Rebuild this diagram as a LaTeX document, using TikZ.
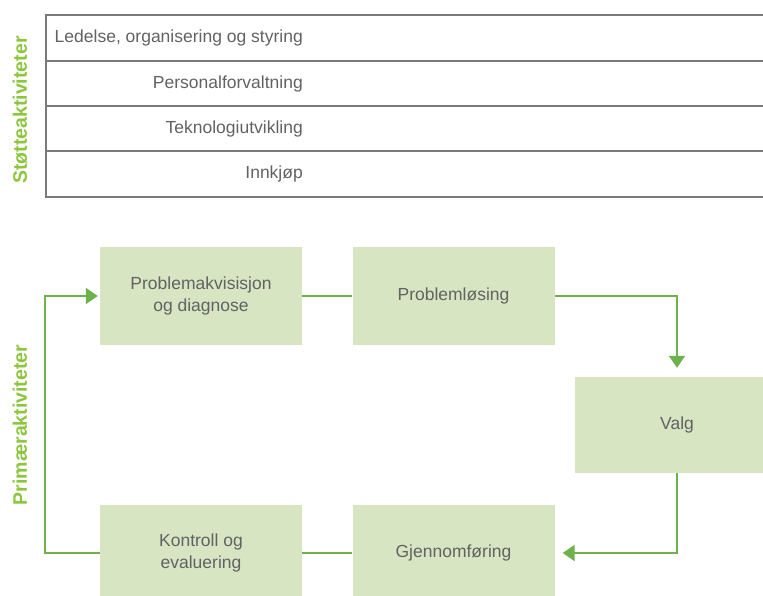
\documentclass[tikz,border=0pt]{standalone}
\usepackage{fontspec}
\setmainfont{Liberation Sans}
\usepackage{xcolor}
\usetikzlibrary{shapes,arrows.meta,positioning,calc}
\definecolor{boxgreen}{HTML}{D7E5C3}
\definecolor{linegreen}{HTML}{6DB24A}
\definecolor{labelgreen}{HTML}{8CC63F}
\definecolor{textgray}{HTML}{626262}
\definecolor{rulegray}{HTML}{7A7A7A}

\begin{document}
\begin{tikzpicture}[x=1pt, y=-1pt,
    activity/.style={rectangle, fill=boxgreen, text=textgray, align=center, font=\fontsize{17.5}{22}\selectfont, minimum width=202pt, minimum height=98pt, inner sep=0pt},
    support/.style={anchor=east, text=textgray, font=\fontsize{17.5}{20}\selectfont, inner sep=0pt},
    side/.style={rotate=90, text=labelgreen, font=\bfseries\fontsize{19.5}{22}\selectfont},
    link/.style={draw=linegreen, line width=2pt},
    arrow/.style={link, -{Triangle[length=12pt,width=16pt]}}
]
\clip (0,0) rectangle (763,596);

% Support activities
\draw[rulegray, line width=1.6pt] (46,15) rectangle (790,197);
\foreach \y in {61,106,151}
    \draw[rulegray, line width=1.6pt] (46,\y) -- (790,\y);
\node[support] (ledelse) at (303,38) {Ledelse, organisering og styring};
\node[support] (personal) at (303,83.5) {Personalforvaltning};
\node[support] (teknologi) at (303,128.5) {Teknologiutvikling};
\node[support] (innkjop) at (303,174) {Innkjøp};
\node[side] (stotte) at (20,110) {Støtteaktiviteter};

% Primary activities
\node[activity] (problem) at (201,296) {Problemakvisisjon\\og diagnose};
\node[activity] (losing) at (453.5,296) {Problemløsing};
\node[activity, minimum width=204pt, minimum height=96pt] (valg) at (677,425) {Valg};
\node[activity, minimum height=96pt] (gjen) at (453.5,553) {Gjennomføring};
\node[activity, minimum height=96pt] (kontroll) at (201,553) {Kontroll og\\evaluering};
\node[side] (primaer) at (20,425) {Primæraktiviteter};

% Arrows
\draw[link] (problem) -- (losing);
\draw[arrow, shorten >=9pt] (losing.east) -| (valg.north);
\draw[arrow, shorten >=8pt] (valg.south) |- (gjen.east);
\draw[link] (gjen) -- (kontroll);
\draw[arrow, shorten >=2pt] (kontroll.west) -- ++(-55,0) |- (problem.west);

\end{tikzpicture}
\end{document}
